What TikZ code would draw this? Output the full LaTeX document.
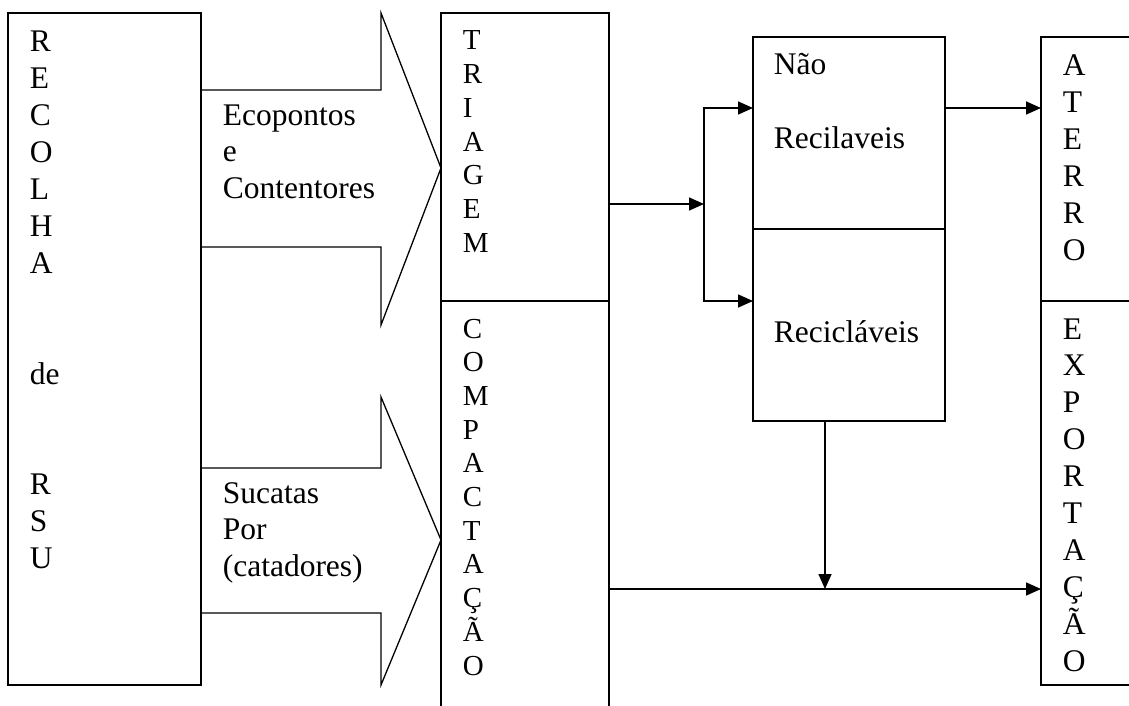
\documentclass[tikz,border=0pt]{standalone}
\usepackage{fontspec}
\setmainfont{Liberation Serif}
\usetikzlibrary{arrows.meta}
\newcommand{\bigtxt}{\fontsize{31.5}{36.9}\selectfont}
\newcommand{\smtxt}{\fontsize{29}{33.7}\selectfont}
\newcommand{\col}[1]{\begin{tabular}[t]{@{}l@{}}#1\end{tabular}}
\begin{document}
\begin{tikzpicture}[x=1pt,y=-1pt,
  line width=1.6pt,
  boxx/.style={draw,line width=1.6pt,rectangle,inner sep=0pt,outer sep=0pt,anchor=north west},
  lbl/.style={anchor=base west,inner sep=0pt,font=\bigtxt},
  slbl/.style={anchor=base west,inner sep=0pt,font=\smtxt},
  conn/.style={line width=1.6pt,-{Triangle[length=15pt,width=13pt]}},
  bigarrow/.style={draw,line width=1.3pt,line join=miter}]
\useasboundingbox (0,0) rectangle (1129,706);
\clip (0,0) rectangle (1129,706);
% boxes
\node[boxx,minimum width=193pt,minimum height=672pt] (recolha) at (8,13) {};
\node[boxx,minimum width=168pt,minimum height=288pt] (triagem) at (441,13) {};
\node[boxx,minimum width=168pt,minimum height=419pt] (compact) at (441,301) {};
\node[boxx,minimum width=192pt,minimum height=192pt] (naorec) at (753,37) {};
\node[boxx,minimum width=192pt,minimum height=192pt] (recic) at (753,229) {};
\node[boxx,minimum width=99pt,minimum height=264pt] (aterro) at (1041,37) {};
\node[boxx,minimum width=99pt,minimum height=384pt] (export) at (1041,301) {};
% big arrows
\draw[bigarrow] (recolha.east |- 0,90) -- (381,90) -- (381,13) -- (triagem.west |- 0,168) -- (381,325) -- (381,247) -- (recolha.east |- 0,247);
\draw[bigarrow] (recolha.east |- 0,468) -- (381,468) -- (381,397) -- (compact.west |- 0,540) -- (381,685) -- (381,613) -- (recolha.east |- 0,613);
% texts
\node[lbl] (t1) at (29,52) {\col{R\\E\\C\\O\\L\\H\\A\\ \\ \\de\\ \\ \\R\\S\\U}};
\node[lbl] (t2) at (222,125) {\col{Ecopontos\\e\\Contentores}};
\node[lbl] (t3) at (222,503) {\col{Sucatas\\Por\\(catadores)}};
\node[slbl] (t4) at (462,50) {\col{T\\R\\I\\A\\G\\E\\M}};
\node[slbl] (t5) at (462,338) {\col{C\\O\\M\\P\\A\\C\\T\\A\\Ç\\Ã\\O}};
\node[lbl] (t6) at (773,75) {\col{Não\\ \\Recilaveis}};
\node[lbl] (t7) at (773,342) {Recicláveis};
\node[lbl] (t8) at (1062,76) {\col{A\\T\\E\\R\\R\\O}};
\node[lbl] (t9) at (1062,339) {\col{E\\X\\P\\O\\R\\T\\A\\Ç\\Ã\\O}};
% connectors
\coordinate (split) at (704,204);
\coordinate (sa) at (704,108);
\coordinate (sb) at (704,301);
\coordinate (join) at (825,589);
\draw[conn] (triagem.east |- split) -- (split);
\draw[conn] (split) -- (sa) -- (naorec.west |- sa);
\draw[conn] (split) -- (sb) -- (recic.west |- sb);
\draw[conn] (naorec.east |- sa) -- (aterro.west |- sa);
\draw[conn] (compact.east |- join) -- (export.west |- join);
\draw[conn] (recic.south -| join) -- (join);
\end{tikzpicture}
\end{document}
